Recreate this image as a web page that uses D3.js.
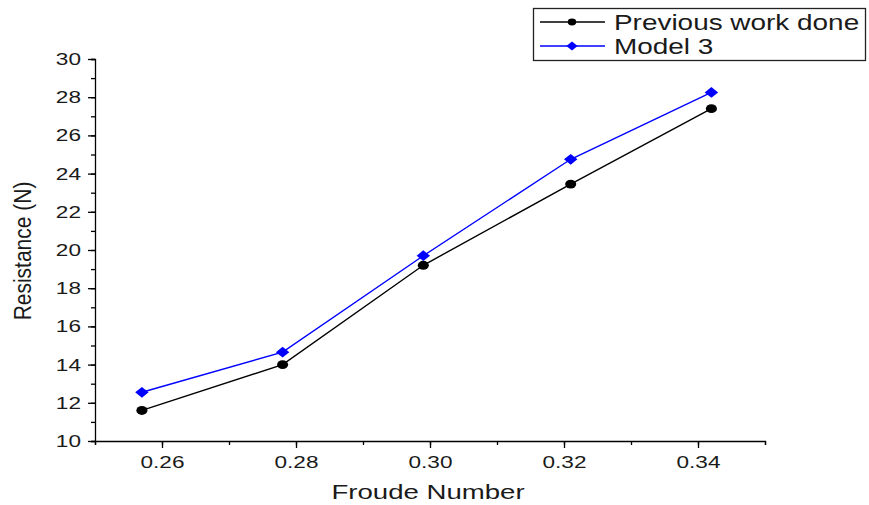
<!DOCTYPE html>
<meta charset="utf-8">
<style>
body { margin: 0; background: #fff; }
text { font-family: "Liberation Sans", Arial, sans-serif; fill: #1a1a1a; }
.axis path, .axis line { stroke: #000; stroke-width: 1.3px; }
.axis text { font-size: 17px; fill: #1a1a1a; }
</style>
<svg width="869" height="505"></svg>
<script src="https://d3js.org/d3.v7.min.js"></script>
<script>

var froude = [0.257, 0.278, 0.299, 0.321, 0.342];
var previousWork = [11.6, 14.0, 19.2, 23.45, 27.4];
var model3 = [12.55, 14.65, 19.7, 24.75, 28.25];
var xTicks = [0.26, 0.28, 0.30, 0.32, 0.34];
var yTicks = [10, 12, 14, 16, 18, 20, 22, 24, 26, 28, 30];

// the original picture is stretched sideways, so text and marks are too
var stretch = 1.33;

var svg = d3.select("svg");

var x = d3.scaleLinear().domain([0.25, 0.35]).range([95, 765]);
var y = d3.scaleLinear().domain([10, 30]).range([441, 59]);

// minor ticks
svg.append("g")
    .attr("class", "axis")
    .attr("transform", "translate(0,441)")
    .call(d3.axisBottom(x).tickValues(d3.range(0.25, 0.3501, 0.01)).tickSize(4).tickFormat(""));
svg.append("g")
    .attr("class", "axis")
    .attr("transform", "translate(95,0)")
    .call(d3.axisLeft(y).tickValues(d3.range(10, 30.01, 1)).tickSize(4).tickFormat(""));

var xAxis = svg.append("g")
    .attr("class", "axis")
    .attr("transform", "translate(0,441)")
    .call(d3.axisBottom(x).tickValues(xTicks).tickSize(7).tickPadding(8).tickFormat(d3.format(".2f")));
xAxis.select(".domain").remove();
xAxis.selectAll("text").attr("transform", "scale(" + stretch + ",1)");

var yAxis = svg.append("g")
    .attr("class", "axis")
    .attr("transform", "translate(95,0)")
    .call(d3.axisLeft(y).tickValues(yTicks).tickSize(7).tickPadding(6).tickFormat(d3.format("d")));
yAxis.select(".domain").remove();
yAxis.selectAll("text")
    .attr("x", 0)
    .attr("transform", "translate(-14,0) scale(" + stretch + ",1)");

svg.append("text")
    .attr("transform", "translate(428,499) scale(1.38,1)")
    .attr("text-anchor", "middle")
    .style("font-size", "20px")
    .text("Froude Number");

svg.append("text")
    .attr("transform", "translate(31,251) rotate(-90) scale(1,1.15)")
    .attr("text-anchor", "middle")
    .style("font-size", "21px")
    .text("Resistance (N)");

var series = [
  {name: "Previous work done", values: previousWork, color: "#000", symbol: d3.symbolCircle, size: 62, rot: 0, legendSize: 36},
  {name: "Model 3", values: model3, color: "#0000ff", symbol: d3.symbolSquare, size: 58, rot: 45, legendSize: 40}
];

var line = d3.line()
    .x(function(d) { return x(d[0]); })
    .y(function(d) { return y(d[1]); });

series.forEach(function(s) {
  var pts = froude.map(function(f, i) { return [f, s.values[i]]; });
  svg.append("path")
      .datum(pts)
      .attr("fill", "none")
      .attr("stroke", s.color)
      .attr("stroke-width", 1.4)
      .attr("d", line);
  svg.selectAll(null)
      .data(pts)
      .enter().append("path")
      .attr("transform", function(d) {
        return "translate(" + x(d[0]) + "," + y(d[1]) + ") scale(1.25,1) rotate(" + s.rot + ")";
      })
      .attr("fill", s.color)
      .attr("d", d3.symbol().type(s.symbol).size(s.size));
});

// legend
var legend = svg.append("g");
legend.append("rect")
    .attr("x", 533.5).attr("y", 8.5)
    .attr("width", 332).attr("height", 52)
    .attr("fill", "#fff")
    .attr("stroke", "#222")
    .attr("stroke-width", 1.3);

series.forEach(function(s, i) {
  var ly = 22 + i * 24;
  legend.append("line")
      .attr("x1", 540).attr("x2", 605)
      .attr("y1", ly).attr("y2", ly)
      .attr("stroke", s.color)
      .attr("stroke-width", 1.4);
  legend.append("path")
      .attr("transform", "translate(572," + ly + ") scale(1.25,1) rotate(" + s.rot + ")")
      .attr("fill", s.color)
      .attr("d", d3.symbol().type(s.symbol).size(s.legendSize));
  legend.append("text")
      .attr("transform", "translate(614," + (ly + 8) + ") scale(1.27,1)")
      .style("font-size", "22px")
      .text(s.name);
});

</script>
